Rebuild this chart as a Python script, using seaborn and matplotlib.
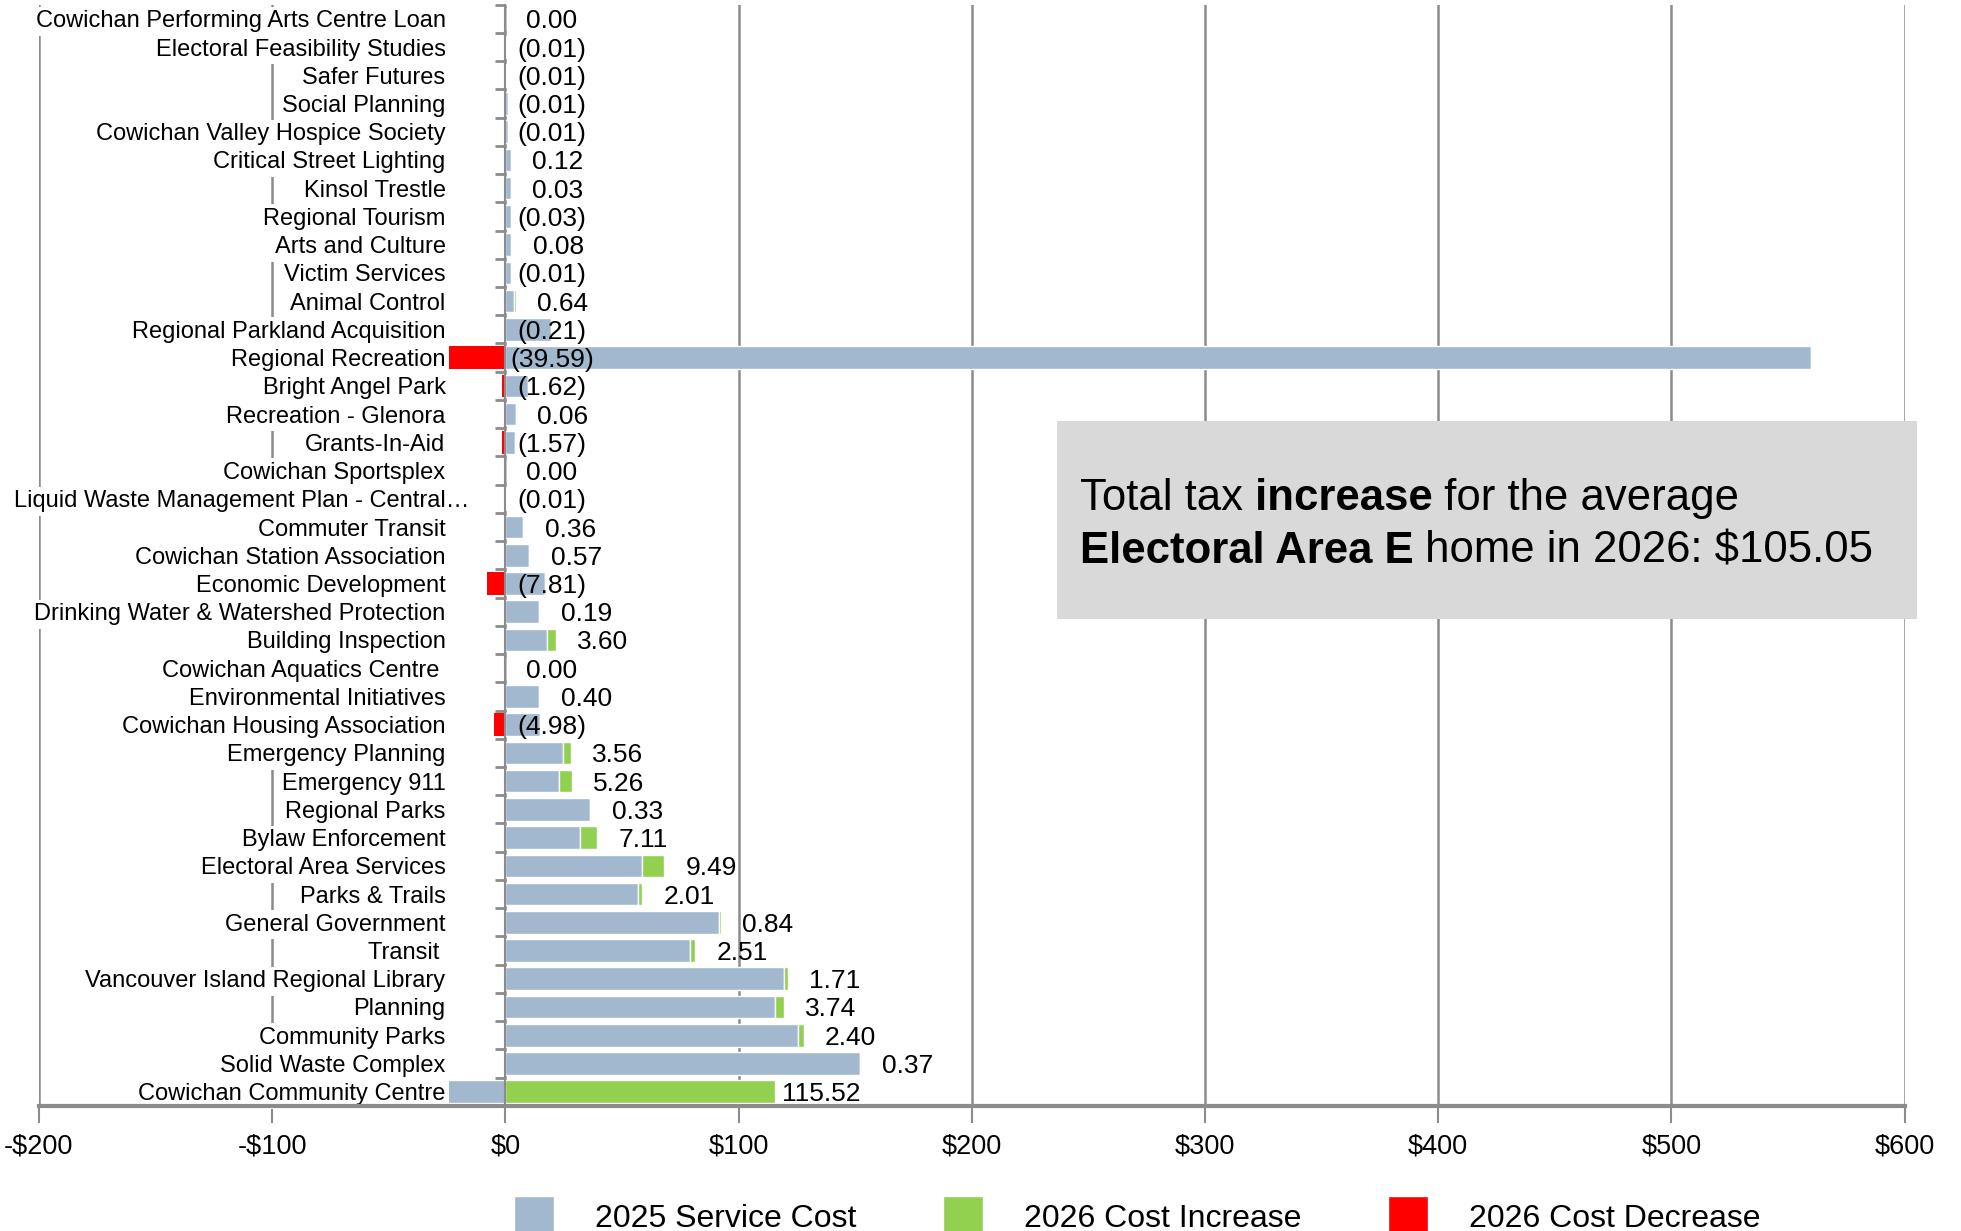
import matplotlib
matplotlib.use("Agg")
import matplotlib.pyplot as plt
import matplotlib.ticker as mticker
from matplotlib.patches import Rectangle, Patch
from matplotlib.text import Annotation
from matplotlib.transforms import ScaledTranslation
import seaborn as sns
import pandas as pd
import numpy as np

services = [
    "Cowichan Performing Arts Centre Loan",
    "Electoral Feasibility Studies",
    "Safer Futures",
    "Social Planning",
    "Cowichan Valley Hospice Society",
    "Critical Street Lighting",
    "Kinsol Trestle",
    "Regional Tourism",
    "Arts and Culture",
    "Victim Services",
    "Animal Control",
    "Regional Parkland Acquisition",
    "Regional Recreation",
    "Bright Angel Park",
    "Recreation - Glenora",
    "Grants-In-Aid",
    "Cowichan Sportsplex",
    "Liquid Waste Management Plan - Central\u2026",
    "Commuter Transit",
    "Cowichan Station Association",
    "Economic Development",
    "Drinking Water & Watershed Protection",
    "Building Inspection",
    "Cowichan Aquatics Centre ",
    "Environmental Initiatives",
    "Cowichan Housing Association",
    "Emergency Planning",
    "Emergency 911",
    "Regional Parks",
    "Bylaw Enforcement",
    "Electoral Area Services",
    "Parks & Trails",
    "General Government",
    "Transit ",
    "Vancouver Island Regional Library",
    "Planning",
    "Community Parks",
    "Solid Waste Complex",
    "Cowichan Community Centre",
]
cost_2025 = [0, 0.3, 0.3, 1.0, 1.0, 2.3, 2.3, 2.3, 2.6, 2.6, 3.8, 19.5, 560.0,
             9.8, 4.7, 4.0, 0, 0.5, 7.5, 10.0, 17.0, 14.5, 18.0, 0, 14.5, 15.0,
             24.7, 23.2, 36.3, 32.2, 58.7, 56.8, 91.8, 79.0, 119.7, 115.6,
             125.7, 152.2, -25.4]
increase_2026 = [0, 0, 0, 0, 0, 0.12, 0.03, 0, 0.08, 0, 0.64, 0, 0,
                 0, 0.06, 0, 0, 0, 0.36, 0.57, 0, 0.19, 3.60, 0, 0.40, 0,
                 3.56, 5.26, 0.33, 7.11, 9.49, 2.01, 0.84, 2.51, 1.71, 3.74,
                 2.40, 0.37, 115.52]
decrease_2026 = [0, 0.01, 0.01, 0.01, 0.01, 0, 0, 0.03, 0, 0.01, 0, 0.21, 39.59,
                 1.62, 0, 1.57, 0, 0.01, 0, 0, 7.81, 0, 0, 0, 0, 4.98,
                 0, 0, 0, 0, 0, 0, 0, 0, 0, 0,
                 0, 0, 0]
x_ticks = [-200, -100, 0, 100, 200, 300, 400, 500, 600]

df = pd.DataFrame({
    "service": services,
    "cost_2025": cost_2025,
    "increase": increase_2026,
    "decrease": decrease_2026,
})
df["inc_left"] = df["cost_2025"].clip(lower=0)
df["dec_width"] = -df["decrease"]

BLUE = "#a2b8cf"
GREEN = "#92d050"
RED = "#ff0000"
GRID = "#8c8c8c"

sns.set_style("white")
plt.rcParams["font.family"] = ["Liberation Sans", "DejaVu Sans"]
plt.rcParams["text.color"] = "black"

fig = plt.figure(figsize=(19.61, 12.31), dpi=100)
ax = fig.add_axes([0.0198, 0.1017, 0.9515, 0.8945])

sns.barplot(data=df, x="cost_2025", y="service", orient="h", color=BLUE,
            width=0.8, saturation=1, edgecolor="white", linewidth=1, ax=ax)
sns.barplot(data=df, x="increase", y="service", orient="h", color=GREEN,
            width=0.8, saturation=1, left=df["inc_left"], edgecolor="white",
            linewidth=1, ax=ax)
sns.barplot(data=df, x="dec_width", y="service", orient="h", color=RED,
            width=0.8, saturation=1, edgecolor="none", linewidth=0, ax=ax)

ax.set_xlim(-200, 600)
ax.set_ylim(len(services) - 0.5, -0.5)
ax.set_xlabel("")
ax.set_ylabel("")

# grid below the bars
for xv in x_ticks:
    ax.axvline(xv, color=GRID, linewidth=1.8, zorder=0)

ax.set_axisbelow(False)
ax.spines["top"].set_visible(False)
ax.spines["right"].set_visible(False)
ax.spines["left"].set_position(("data", 0))
ax.spines["left"].set_color(GRID)
ax.spines["left"].set_linewidth(1.5)
ax.spines["bottom"].set_color(GRID)
ax.spines["bottom"].set_linewidth(3)
ax.spines["bottom"].set_zorder(6)

ax.set_xticks(x_ticks)
ax.xaxis.set_major_formatter(mticker.FuncFormatter(
    lambda v, p: f"-${abs(v):.0f}" if v < 0 else f"${v:.0f}"))
ax.tick_params(axis="x", bottom=True, length=12, width=1.5, color=GRID,
               labelsize=19.5, labelcolor="black", pad=8)

ax.set_yticks(range(len(services)))
ax.set_yticklabels(services)
ax.set_yticks(np.arange(-0.5, len(services), 1), minor=True)
ax.tick_params(axis="y", which="major", left=True, length=0, pad=43,
               labelsize=17, labelcolor="black")
ax.tick_params(axis="y", which="minor", left=True, length=7, width=2, color=GRID)
for lab in ax.get_yticklabels():
    lab.set_bbox(dict(facecolor="white", edgecolor="none", pad=2.5))
    if lab.get_text().startswith("Liquid"):
        lab.set_transform(lab.get_transform() +
                          ScaledTranslation(0.24, 0, fig.dpi_scale_trans))

# change labels
for i, row in df.iterrows():
    if row["decrease"] > 0:
        txt = f"({row['decrease']:.2f})"
        xpos = 20
    else:
        txt = f"{row['increase']:.2f}"
        xpos = row["inc_left"] + row["increase"] + 20
    ax.text(xpos, i, txt, ha="center", va="center_baseline", fontsize=19, zorder=4)

# summary box
fig.patches.append(Rectangle((0.539, 0.497), 0.4386, 0.161, transform=fig.transFigure,
                             facecolor="#d9d9d9", edgecolor="none", zorder=2))


def rich_line(parts, x, y):
    prev = fig.text(x, y, parts[0][0], fontsize=31.5, fontweight=parts[0][1],
                    va="center", ha="left", zorder=3)
    for txt, weight in parts[1:]:
        ann = Annotation(txt, xy=(1, 0), xycoords=prev, va="bottom", ha="left",
                         fontsize=31.5, fontweight=weight, zorder=3)
        fig.add_artist(ann)
        prev = ann


rich_line([("Total tax", "normal"), (" increase", "bold"), (" for the average", "normal")],
          0.5505, 0.595)
rich_line([("Electoral Area E", "bold"), (" home in 2026: $105.05", "normal")],
          0.5505, 0.552)

handles = [Patch(facecolor=BLUE), Patch(facecolor=GREEN), Patch(facecolor=RED)]
fig.legend(handles, ["2025 Service Cost", "2026 Cost Increase", "2026 Cost Decrease"],
           loc="center", bbox_to_anchor=(0.58, 0.012), ncol=3, frameon=False,
           fontsize=23, handlelength=1.25, handleheight=1.6, handletextpad=1.3,
           columnspacing=2.7)

plt.savefig("out.png", dpi=100)
